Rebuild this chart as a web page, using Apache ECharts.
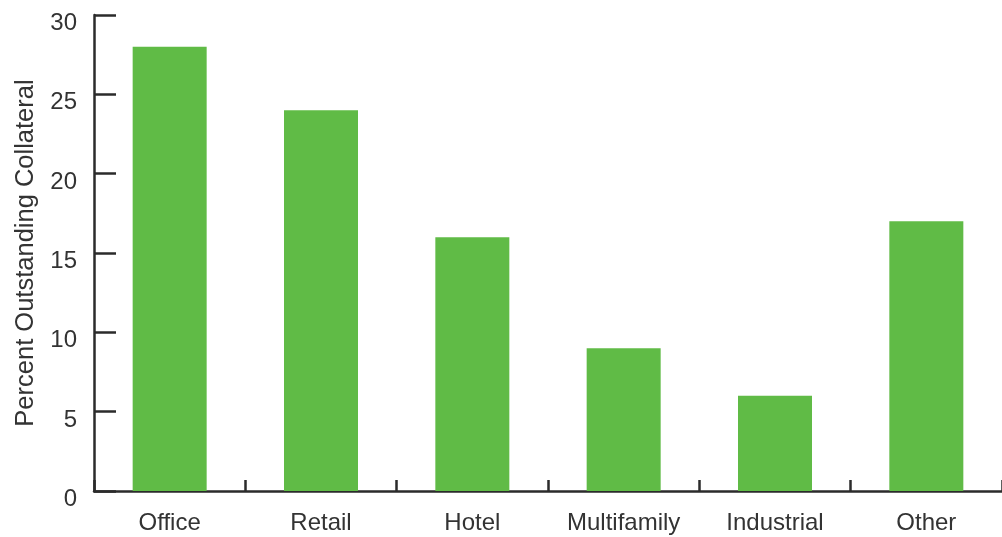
<!DOCTYPE html>
<html>
<head>
<meta charset="utf-8">
<script src="https://cdn.jsdelivr.net/npm/echarts@6/dist/echarts.min.js"></script>
<style>
  html, body { margin: 0; padding: 0; background: #fff; }
  #chart { width: 1002px; height: 537px; }
</style>
</head>
<body>
<div id="chart"></div>
<script>
const categories = ['Office', 'Retail', 'Hotel', 'Multifamily', 'Industrial', 'Other'];
const values = [28, 24, 16, 9, 6, 17];

const axisColor = '#2b2b2b';
const textColor = '#333';
const font = '"Liberation Sans", Arial, sans-serif';

const chart = echarts.init(document.getElementById('chart'));
chart.setOption({
    animation: false,
    grid: { left: 94, top: 15, width: 912, height: 476 },
    xAxis: {
        type: 'category',
        data: categories,
        axisLine: { lineStyle: { color: axisColor, width: 2.5 } },
        axisTick: { show: true, inside: true, length: 11, lineStyle: { color: axisColor, width: 2.5 } },
        axisLabel: { color: textColor, fontSize: 24, fontFamily: font, margin: 20 },
    },
    yAxis: {
        type: 'value',
        min: 0, max: 30, interval: 5,
        name: 'Percent Outstanding Collateral',
        nameLocation: 'middle',
        nameGap: 52,
        nameTextStyle: { color: textColor, fontSize: 25.5, fontFamily: font },
        axisLine: { show: true, lineStyle: { color: axisColor, width: 2.5 } },
        axisTick: { show: true, inside: true, length: 22, lineStyle: { color: axisColor, width: 2.5 } },
        axisLabel: {
            color: textColor, fontSize: 24, fontFamily: font, margin: 17,
            verticalAlign: 'top', lineHeight: 17,
        },
        splitLine: { show: false },
    },
    series: [{
        type: 'bar',
        data: values,
        barWidth: 74,
        itemStyle: { color: '#60bb46' },
    }],
});
</script>
</body>
</html>
